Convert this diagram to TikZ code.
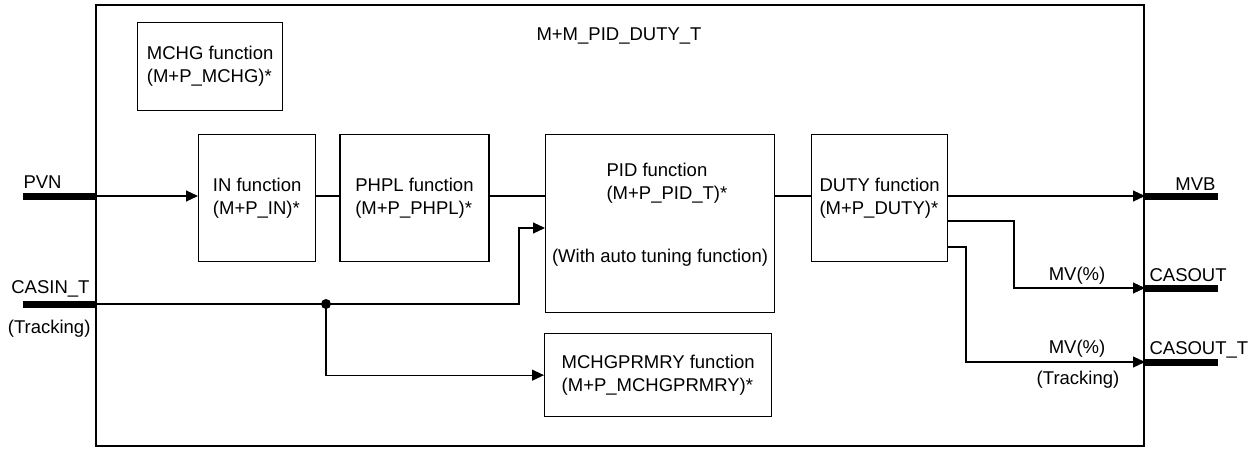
\documentclass[tikz,border=0pt]{standalone}
\usepackage{fontspec}
\setmainfont{Liberation Sans}
\usetikzlibrary{arrows.meta,positioning,calc}

\tikzset{
  frame/.style={line width=1.3pt},
  fbox/.style={draw, line width=1.3pt, inner sep=0pt, align=left, anchor=north west},
  port/.style={fill, inner sep=0pt, outer sep=0pt, minimum width=73pt, minimum height=7pt},
  lbl/.style={inner sep=0pt}
}

\begin{document}
\begin{tikzpicture}[x=1pt, y=-1pt, >={Triangle[length=12pt,width=11pt]}, line width=1.1pt,
  font=\fontsize{18.5}{23}\selectfont]
  \useasboundingbox (0,0) rectangle (1257,448);
  \draw[frame] (96,5) rectangle (1144,446);
  \node[lbl, anchor=base] (title) at (619,40) {M+M\_PID\_DUTY\_T};

  \node[fbox, minimum width=145pt, minimum height=88pt] (mchg) at (137,22) {MCHG function\\(M+P\_MCHG)*};
  \node[fbox, minimum width=117pt, minimum height=127pt] (in) at (198,134) {IN function\\(M+P\_IN)*};
  \node[fbox, minimum width=149pt, minimum height=127pt, right=23pt of in] (phpl) {PHPL function\\(M+P\_PHPL)*};
  \node[fbox, minimum width=229pt, minimum height=178pt] (pid) at (545,134) {};
  \node[lbl, align=left, anchor=west] (pidname) at (606,183) {PID function\\(M+P\_PID\_T)*};
  \node[lbl, anchor=base] (pidnote) at (660,262.5) {(With auto tuning function)};
  \node[fbox, minimum width=136pt, minimum height=127pt] (duty) at (811,134) {DUTY function\\(M+P\_DUTY)*};
  \node[fbox, minimum width=227pt, minimum height=83pt] (prmry) at (544,333) {MCHGPRMRY function\\(M+P\_MCHGPRMRY)*};

  \node[port, anchor=east] (pvn) at (96,196) {};
  \node[port, anchor=east] (casin) at (96,304) {};
  \node[port, anchor=west] (mvb) at (1145,196) {};
  \node[port, anchor=west] (casout) at (1145,288) {};
  \node[port, anchor=west] (casoutt) at (1145,362) {};

  \node[lbl, anchor=base west] (pvnlbl) at (23,188.5) {PVN};
  \node[lbl, anchor=base east] (casinlbl) at (90,293.5) {CASIN\_T};
  \node[lbl, anchor=base east] (casintrk) at (91,333) {(Tracking)};
  \node[lbl, anchor=base east] (mvblbl) at (1216,190.5) {MVB};
  \node[lbl, anchor=base west] (casoutlbl) at (1149,281.5) {CASOUT};
  \node[lbl, anchor=base west] (casouttlbl) at (1149,354.3) {CASOUT\_T};
  \node[lbl, anchor=base] (mvpct) at (1077,280) {MV(\%)};
  \node[lbl, anchor=base] (mvpctt) at (1077,353) {MV(\%)};
  \node[lbl, anchor=base] (casouttrk) at (1078,384.5) {(Tracking)};

  \draw[->] (pvn.east) -- (pvn.east -| in.west);
  \draw (in.east |- pvn.east) -- (phpl.west |- pvn.east);
  \draw (phpl.east |- pvn.east) -- (pid.west |- pvn.east);
  \draw (pid.east |- pvn.east) -- (duty.west |- pvn.east);
  \draw[->] (duty.east |- mvb.west) -- (mvb.west);
  \draw[->] (duty.east |- 0,221) -| (1014,288) -- (casout.west);
  \draw[->] (duty.east |- 0,247) -| (966,362) -- (casoutt.west);

  \coordinate (jn) at (326,304);
  \draw[->] (casin.east) -| (519,228) -- (pid.west |- 0,228);
  \fill (jn) circle[radius=5pt];
  \draw[->] (jn) |- (prmry.west);
\end{tikzpicture}
\end{document}
